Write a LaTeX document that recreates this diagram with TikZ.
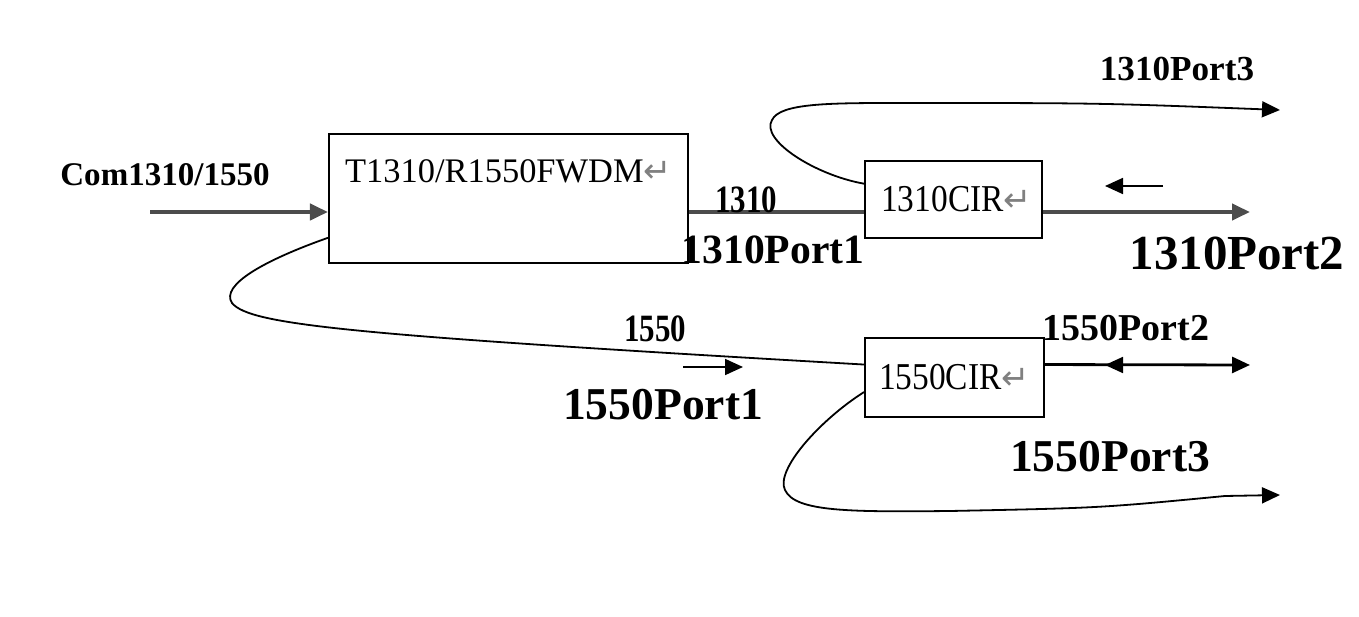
\documentclass[tikz,border=0pt]{standalone}
\usepackage{fontspec}
\setmainfont{Liberation Serif}
\newfontfamily\retfont{DejaVu Sans}
\newfontfamily\narrowfont[FakeStretch=0.8]{Liberation Serif}
\newfontfamily\cirfont[FakeStretch=0.88]{Liberation Serif}
\usepackage{tikz}
\usetikzlibrary{positioning, arrows.meta, calc}

\def\ret{{\retfont\color{gray}\fontsize{24}{24}\selectfont ↵}}

\tikzset{
    box/.style={draw, line width=0.5mm, inner sep=0mm},
    fibre/.style={line width=1mm, black!70},
    loopline/.style={line width=0.45mm},
    tri/.style={-{Triangle[length=4.5mm, width=4mm]}},
    portlabel/.style={font=\bfseries\fontsize{#1}{#1}\selectfont, inner sep=0mm}
}

\begin{document}
\begin{tikzpicture}[x=0.25mm, y=-0.25mm]
    \useasboundingbox (0,0) rectangle (1359,617);

    % boxes
    \node[box, minimum width=89.75mm, minimum height=32.25mm,
          text height=12.25mm, text depth=20mm,
          font=\fontsize{24.5}{24.5}\selectfont] (wdm) at (508.5,198.5) {T1310/R1550FWDM\ret};
    \node[box, minimum width=44.25mm, minimum height=19.25mm,
          font=\cirfont\fontsize{27}{27}\selectfont] (cir1310) at (953.5,199.5) {\,1310CIR\ret};
    \node[box, minimum width=44.75mm, minimum height=19.75mm,
          font=\cirfont\fontsize{27}{27}\selectfont] (cir1550) at (954.5,377.5) {1550CIR\ret};

    % port ends
    \coordinate (com) at (150,212);
    \coordinate (p2a) at (1250,212);
    \coordinate (p3a) at (1280,110);
    \coordinate (p2b) at (1250,365);
    \coordinate (p3b) at (1280,495);
    \coordinate (back1) at (1163,186);
    \coordinate (back1e) at (1105,186);
    \coordinate (back2) at (1150,365);
    \coordinate (back2e) at (1105,365);
    \coordinate (dir1550) at (683,367);
    \coordinate (dir1550e) at (743,367);

    \coordinate (s3a) at ($(cir1310.north west)!0.3!(cir1310.south west)$);
    \coordinate (s1b) at ($(wdm.north west)!0.8!(wdm.south west)$);
    \coordinate (e1b) at ($(cir1550.north west)!0.34!(cir1550.south west)$);
    \coordinate (s3b) at ($(cir1550.north west)!0.68!(cir1550.south west)$);

    % 1310 path
    \draw[fibre, tri] (com) -- (com -| wdm.west);
    \draw[fibre] (com -| wdm.east) -- (com -| cir1310.west);
    \draw[fibre, tri] (com -| cir1310.east) -- (p2a);
    \draw[loopline, tri] (back1) -- (back1e);
    \draw[loopline, tri] (s3a) .. controls (815,175) and (760,140) .. (772,120)
        .. controls (780,103) and (830,103) .. (900,103)
        .. controls (1100,103) .. (p3a);

    % 1550 path
    \draw[loopline] (s1b) .. controls (265,260) and (220,285) .. (232,303)
        .. controls (250,325) and (350,335) .. (e1b);
    \draw[loopline, tri] (dir1550) -- (dir1550e);
    \draw[line width=0.7mm, tri] (e1b -| cir1550.east) -- (p2b);
    \draw[loopline, tri] (back2) -- (back2e);
    \draw[loopline, tri] (s3b) .. controls (820,420) and (775,470) .. (785,490)
        .. controls (795,512) and (850,512) .. (950,511)
        .. controls (1100,508) .. (1225,496) -- (p3b);

    % labels
    \foreach \name/\x/\y/\size/\face/\txt in {
        lcom/165/175/23.5/\relax/Com1310\slash1550,
        l1310/746/200/27.5/\narrowfont/1310,
        l1310p1/773/250/29.6/\relax/1310Port1,
        l1310p2/1237/253/34.8/\relax/1310Port2,
        l1310p3/1177/69/25/\relax/1310Port3,
        l1550/655/329/27.5/\narrowfont/1550,
        l1550p1/663/405/32.4/\relax/1550Port1,
        l1550p2/1126/328/27/\relax/1550Port2,
        l1550p3/1110/457/32.4/\relax/1550Port3}
    {
        \node[portlabel=\size] (\name) at (\x,\y) {\face\txt};
    }
\end{tikzpicture}
\end{document}
